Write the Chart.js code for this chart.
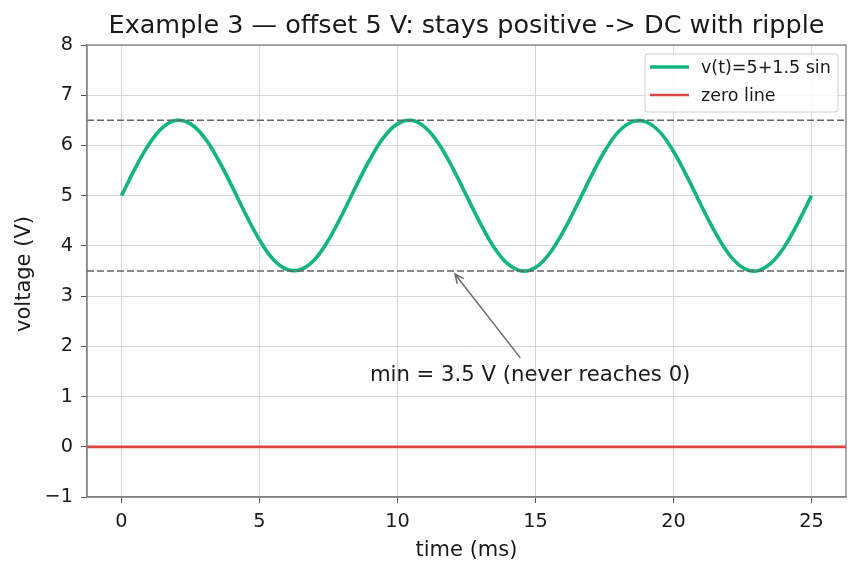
<!DOCTYPE html>
<html>
<head>
<meta charset="utf-8">
<script src="https://cdn.jsdelivr.net/npm/chart.js@4"></script>
<style>
  html, body { margin: 0; padding: 0; background: #fff; }
  #wrap { width: 860px; height: 573px; }
</style>
</head>
<body>
<div id="wrap"><canvas id="chart" width="860" height="573"></canvas></div>
<script>
// time samples (ms), every 0.5 ms
var tiempos = [0, 0.5, 1, 1.5, 2, 2.5, 3, 3.5, 4, 4.5, 5, 5.5, 6, 6.5, 7, 7.5, 8, 8.5, 9, 9.5,
    10, 10.5, 11, 11.5, 12, 12.5, 13, 13.5, 14, 14.5, 15, 15.5, 16, 16.5, 17, 17.5, 18, 18.5, 19, 19.5,
    20, 20.5, 21, 21.5, 22, 22.5, 23, 23.5, 24, 24.5, 25];
var voltajes = [5.00, 5.55, 6.03, 6.36, 6.50, 6.43, 6.16, 5.72, 5.19, 4.63, 4.12, 3.73, 3.53, 3.53, 3.73, 4.12, 4.63, 5.19, 5.72, 6.16,
    6.43, 6.50, 6.36, 6.03, 5.55, 5.00, 4.45, 3.97, 3.64, 3.50, 3.57, 3.84, 4.28, 4.81, 5.37, 5.88, 6.27, 6.47, 6.47, 6.27,
    5.88, 5.37, 4.81, 4.28, 3.84, 3.57, 3.50, 3.64, 3.97, 4.45, 5.00];
var limitesX = [-1.25, 26.25];
var lineaCero = [0, 0];
var lineaMax = [6.5, 6.5];
var lineaMin = [3.5, 3.5];
var ticksX = [0, 5, 10, 15, 20, 25];
var ticksY = [-1, 0, 1, 2, 3, 4, 5, 6, 7, 8];
var etiquetas = ['v(t)=5+1.5 sin', 'zero line'];
var titulo = 'Example 3 \u2014 offset 5 V: stays positive -> DC with ripple';
var tituloX = 'time (ms)';
var tituloY = 'voltage (V)';
var nota = 'min = 3.5 V (never reaches 0)';
var notaTexto = [9.0, 1.3];
var notaFlecha = [14.45, 1.77, 12.08, 3.44];

var VERDE = '#12b47f';
var ROJO = '#e04343';
var TEXTO = '#1a1a1a';
var FUENTE = "'DejaVu Sans', sans-serif";

var pares = function (xs, ys) {
    return xs.map(function (x, i) { return { x: x, y: ys[i] }; });
};

var extras = {
    id: 'extras',
    afterDraw: function (chart) {
        var ctx = chart.ctx;
        var a = chart.chartArea;
        var sx = chart.scales.x, sy = chart.scales.y;
        ctx.save();
        // caja
        ctx.strokeStyle = '#808080';
        ctx.lineWidth = 1.3;
        ctx.strokeRect(a.left, a.top, a.right - a.left, a.bottom - a.top);

        // titulo y ejes
        ctx.fillStyle = TEXTO;
        ctx.textAlign = 'center';
        ctx.textBaseline = 'alphabetic';
        ctx.font = '25.5px ' + FUENTE;
        ctx.fillText(titulo, (a.left + a.right) / 2, 33);
        ctx.font = '21px ' + FUENTE;
        ctx.fillText(tituloX, (a.left + a.right) / 2, 556);
        ctx.save();
        ctx.translate(30, (a.top + a.bottom) / 2 + 3);
        ctx.rotate(-Math.PI / 2);
        ctx.fillText(tituloY, 0, 0);
        ctx.restore();

        // anotacion
        var x1 = sx.getPixelForValue(notaFlecha[0]), y1 = sy.getPixelForValue(notaFlecha[1]);
        var x2 = sx.getPixelForValue(notaFlecha[2]), y2 = sy.getPixelForValue(notaFlecha[3]);
        ctx.strokeStyle = '#6b6b6b';
        ctx.lineWidth = 1.5;
        ctx.beginPath();
        ctx.moveTo(x1, y1);
        ctx.lineTo(x2, y2);
        var ang = Math.atan2(y2 - y1, x2 - x1);
        ctx.moveTo(x2 - 10 * Math.cos(ang - 0.42), y2 - 10 * Math.sin(ang - 0.42));
        ctx.lineTo(x2, y2);
        ctx.lineTo(x2 - 10 * Math.cos(ang + 0.42), y2 - 10 * Math.sin(ang + 0.42));
        ctx.stroke();
        ctx.fillStyle = TEXTO;
        ctx.font = '21.2px ' + FUENTE;
        ctx.textAlign = 'left';
        ctx.fillText(nota, sx.getPixelForValue(notaTexto[0]), sy.getPixelForValue(notaTexto[1]));

        // leyenda
        var lx = a.right - 201, ly = a.top + 9, lw = 193, lh = 58;
        ctx.fillStyle = 'rgba(255,255,255,0.85)';
        ctx.strokeStyle = '#d0d0d0';
        ctx.lineWidth = 1;
        ctx.beginPath();
        ctx.roundRect(lx, ly, lw, lh, 3);
        ctx.fill();
        ctx.stroke();
        var colores = [VERDE, ROJO];
        var anchos = [3.6, 2.7];
        ctx.font = '17.5px ' + FUENTE;
        ctx.textBaseline = 'middle';
        for (var i = 0; i < etiquetas.length; i++) {
            var yy = ly + 13 + i * 28;
            ctx.strokeStyle = colores[i];
            ctx.lineWidth = anchos[i];
            ctx.beginPath();
            ctx.moveTo(lx + 5, yy);
            ctx.lineTo(lx + 44, yy);
            ctx.stroke();
            ctx.fillStyle = TEXTO;
            ctx.fillText(etiquetas[i], lx + 56, yy + 1);
        }
        ctx.restore();
    }
};

var Crear = function () {
    var lienzo = document.getElementById('chart').getContext('2d');
    new Chart(lienzo, {
        type: 'line',
        data: {
            datasets: [
                { data: pares(limitesX, lineaMax), borderColor: '#666', borderWidth: 1.5, borderDash: [7, 3], pointRadius: 0 },
                { data: pares(limitesX, lineaMin), borderColor: '#666', borderWidth: 1.5, borderDash: [7, 3], pointRadius: 0 },
                { data: pares(limitesX, lineaCero), borderColor: ROJO, borderWidth: 2.7, pointRadius: 0 },
                { data: pares(tiempos, voltajes), borderColor: VERDE, borderWidth: 3.6, pointRadius: 0, tension: 0.4 }
            ]
        },
        options: {
            responsive: false,
            animation: false,
            layout: { padding: { top: 45, right: 14, left: 0, bottom: 0 } },
            plugins: { legend: { display: false }, tooltip: { enabled: false } },
            scales: {
                x: {
                    type: 'linear',
                    min: limitesX[0],
                    max: limitesX[1],
                    afterBuildTicks: function (s) { s.ticks = ticksX.map(function (v) { return { value: v }; }); },
                    afterFit: function (s) { s.height = 76; },
                    grid: { color: '#d6d6d6', lineWidth: 1, tickColor: '#555', tickLength: 6 },
                    border: { color: '#808080', width: 1.3 },
                    ticks: { color: TEXTO, font: { family: FUENTE, size: 19.3 }, padding: 7, maxRotation: 0 }
                },
                y: {
                    type: 'linear',
                    min: -1,
                    max: 8,
                    afterBuildTicks: function (s) { s.ticks = ticksY.map(function (v) { return { value: v }; }); },
                    afterFit: function (s) { s.width = 87; },
                    grid: { color: '#d6d6d6', lineWidth: 1, tickColor: '#555', tickLength: 6 },
                    border: { color: '#808080', width: 1.3 },
                    ticks: {
                        color: TEXTO, font: { family: FUENTE, size: 19.3 }, padding: 8,
                        callback: function (v) { return v < 0 ? '\u2212' + Math.abs(v) : '' + v; }
                    }
                }
            }
        },
        plugins: [extras]
    });
};

Crear();
</script>
</body>
</html>
